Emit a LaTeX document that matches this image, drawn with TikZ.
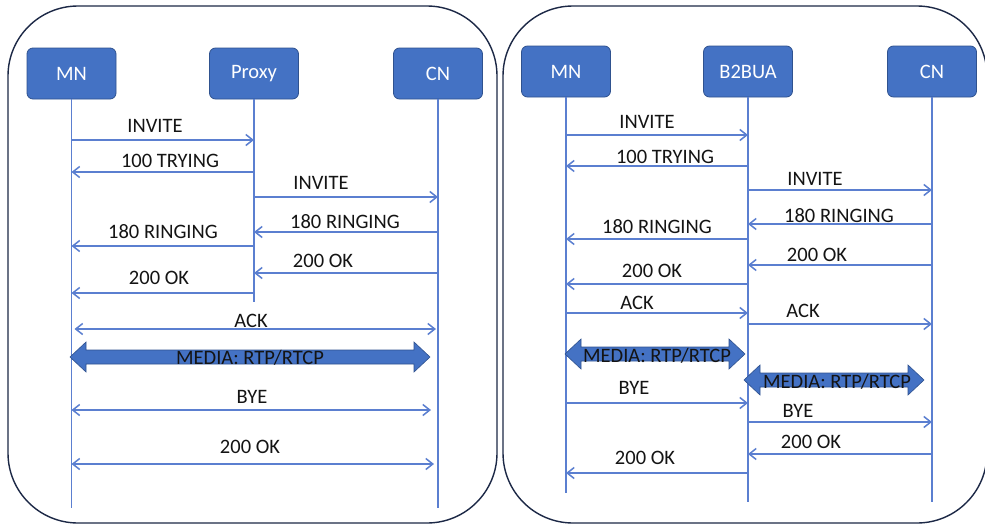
\documentclass[tikz,border=0pt]{standalone}
\usepackage{fontspec}
\setmainfont{Carlito}
\usetikzlibrary{arrows.meta}
\definecolor{boxblue}{HTML}{4472C4}
\definecolor{boxedge}{HTML}{2F528F}
\definecolor{lineblue}{HTML}{5B7FD0}
\definecolor{panel}{HTML}{1C2846}
\definecolor{ink}{HTML}{141414}
\tikzset{
  panelbox/.style={draw=panel, line width=1.4pt, rounded corners=70pt},
  actor/.style={draw=boxedge, fill=boxblue, line width=0.8pt, rounded corners=6pt,
    minimum width=89pt, minimum height=51pt, inner sep=0pt, text=white,
    font=\fontsize{20.5}{22}\selectfont},
  life/.style={draw=lineblue, line width=1.5pt},
  msg/.style={draw=lineblue, line width=1.5pt, -{Straight Barb[length=7pt,width=11pt]}},
  msgboth/.style={msg, {Straight Barb[length=7pt,width=11pt]}-{Straight Barb[length=7pt,width=11pt]}},
  lbl/.style={anchor=base, inner sep=0pt, text=ink, font=\fontsize{20.5}{22}\selectfont},
  media/.style={fill=boxblue, draw=boxedge, line width=0.6pt},
}
% thick two-headed media arrow: #1 left tip x, #2 right tip x, #3 centre y
\newcommand{\mediaarrow}[3]{%
  \path[media] (#1,#3) -- ++(16,-15) -- ++(0,8) -- (#2-16,#3-7) -- ++(0,-8)
    -- (#2,#3) -- (#2-16,#3+15) -- ++(0,-8) -- (#1+16,#3+7) -- ++(0,8) -- cycle;}
\begin{document}
\begin{tikzpicture}[x=1pt, y=-1pt]
\useasboundingbox (0,0) rectangle (985,525);
\fill[white] (0,0) rectangle (985,525);

% ---------------- Proxy call flow ----------------
\draw[panelbox] (8,6) rectangle (497,523);
\node[actor] (mnA) at (71.5,73.5) {MN};
\node[actor] (pxA) at (254,73.5) {Proxy};
\node[actor] (cnA) at (438,73.5) {CN};
\coordinate (mnAend) at (mnA.south |- 0,508);
\coordinate (pxAend) at (pxA.south |- 0,302);
\coordinate (cnAend) at (cnA.south |- 0,508);
\draw[life] (mnA.south) -- (mnAend);
\draw[life] (pxA.south) -- (pxAend);
\draw[life] (cnA.south) -- (cnAend);

\draw[msg] (mnA |- 0,140) -- (pxA |- 0,140);
\node[lbl] at (155,132) {INVITE};
\draw[msg] (pxA |- 0,172) -- (mnA |- 0,172);
\node[lbl] at (170,167) {100 TRYING};
\draw[msg] (pxA |- 0,197) -- (cnA |- 0,197);
\node[lbl] at (321,189) {INVITE};
\draw[msg] (cnA |- 0,232) -- (pxA |- 0,232);
\node[lbl] at (345,228) {180 RINGING};
\draw[msg] (pxA |- 0,246) -- (mnA |- 0,246);
\node[lbl] at (163,238) {180 RINGING};
\draw[msg] (cnA |- 0,273) -- (pxA |- 0,273);
\node[lbl] at (323,267) {200 OK};
\draw[msg] (pxA |- 0,293) -- (mnA |- 0,293);
\node[lbl] at (159,284) {200 OK};
\draw[msgboth, shorten <=3pt, shorten >=2pt] (mnA |- 0,329) -- (cnA |- 0,329);
\node[lbl] at (251,327) {ACK};
\mediaarrow{70}{430}{357}
\node[lbl] at (250,364) {MEDIA: RTP/RTCP};
\draw[msgboth, shorten >=7pt] (mnA |- 0,410) -- (cnA |- 0,410);
\node[lbl] at (252,403) {BYE};
\draw[msgboth, shorten >=4pt] (mnA |- 0,464) -- (cnA |- 0,464);
\node[lbl] at (250,453) {200 OK};

% ---------------- B2BUA call flow ----------------
\draw[panelbox] (503,6) rectangle (987,523);
\node[actor] (mnB) at (566,71.5) {MN};
\node[actor] (bbB) at (748,71.5) {B2BUA};
\node[actor] (cnB) at (932,71.5) {CN};
\coordinate (mnBend) at (mnB.south |- 0,493);
\coordinate (bbBend) at (bbB.south |- 0,502);
\coordinate (cnBend) at (cnB.south |- 0,502);
\draw[life] (mnB.south) -- (mnBend);
\draw[life] (bbB.south) -- (bbBend);
\draw[life] (cnB.south) -- (cnBend);

\draw[msg] (mnB |- 0,135) -- (bbB |- 0,135);
\node[lbl] at (647,128) {INVITE};
\draw[msg] (bbB |- 0,166) -- (mnB |- 0,166);
\node[lbl] at (665,163) {100 TRYING};
\draw[msg] (bbB |- 0,190) -- (cnB |- 0,190);
\node[lbl] at (815,185) {INVITE};
\draw[msg] (cnB |- 0,224) -- (bbB |- 0,224);
\node[lbl] at (839,222) {180 RINGING};
\draw[msg] (bbB |- 0,239) -- (mnB |- 0,239);
\node[lbl] at (657,233) {180 RINGING};
\draw[msg] (cnB |- 0,265) -- (bbB |- 0,265);
\node[lbl] at (817,261) {200 OK};
\draw[msg] (bbB |- 0,284) -- (mnB |- 0,284);
\node[lbl] at (652,277) {200 OK};
\draw[msg] (mnB |- 0,313) -- (bbB |- 0,313);
\node[lbl] at (637,309) {ACK};
\draw[msg] (bbB |- 0,324) -- (cnB |- 0,324);
\node[lbl] at (803,317) {ACK};
\mediaarrow{565}{745}{354}
\node[lbl] at (657,362) {MEDIA: RTP/RTCP};
\mediaarrow{744}{924}{380}
\node[lbl] at (837,388) {MEDIA: RTP/RTCP};
\draw[msg] (mnB |- 0,403) -- (bbB |- 0,403);
\node[lbl] at (634,394) {BYE};
\draw[msg] (bbB |- 0,422) -- (cnB |- 0,422);
\node[lbl] at (798,417) {BYE};
\draw[msg] (cnB |- 0,454) -- (bbB |- 0,454);
\node[lbl] at (811,448) {200 OK};
\draw[msg] (bbB |- 0,473) -- (mnB |- 0,473);
\node[lbl] at (645,464) {200 OK};
\end{tikzpicture}
\end{document}
